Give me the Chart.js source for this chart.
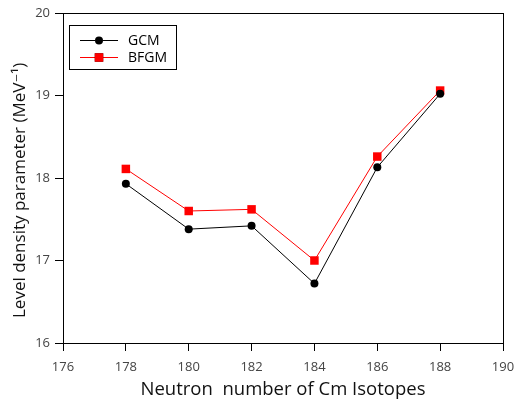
<!DOCTYPE html>
<html>
<head>
<meta charset="utf-8">
<script src="https://cdn.jsdelivr.net/npm/chart.js@4/dist/chart.umd.min.js"></script>
<style>
  html, body { margin: 0; padding: 0; background: #fff; }
  #wrap { width: 516px; height: 403px; }
</style>
</head>
<body>
<div id="wrap"><canvas id="c" width="516" height="403"></canvas></div>
<script>
// Neutron numbers of the Cm isotopes
const neutronNumbers = [178, 180, 182, 184, 186, 188];
// Level density parameter (MeV^-1) from the two models
const gcmValues  = [17.93, 17.38, 17.42, 16.72, 18.13, 19.02];
const bfgmValues = [18.11, 17.60, 17.62, 17.00, 18.26, 19.06];
// Axis tick values
const xTicks = [176, 178, 180, 182, 184, 186, 188, 190];
const yTicks = [16, 17, 18, 19, 20];
// Axis titles
const xTitle = 'Neutron  number of Cm Isotopes';
const yTitle = 'Level density parameter (MeV\u207B\u00B9)';

const FONT = "'Open Sans', 'DejaVu Sans', sans-serif";

const toPoints = (xs, ys) => xs.map((x, i) => ({ x: x, y: ys[i] }));

// Frame around the plot area
const framePlugin = {
  id: 'frame',
  afterDatasetsDraw(chart) {
    const { ctx, chartArea: a } = chart;
    ctx.save();
    ctx.strokeStyle = '#000';
    ctx.lineWidth = 1;
    ctx.strokeRect(Math.round(a.left) + 0.5, Math.round(a.top) + 0.5,
                   Math.round(a.right - a.left), Math.round(a.bottom - a.top));
    ctx.restore();
  }
};

// Rotated y-axis title, starting just above the bottom of the plot
const yTitlePlugin = {
  id: 'yTitle',
  afterDraw(chart) {
    const { ctx, chartArea: a } = chart;
    ctx.save();
    ctx.translate(20, a.bottom - 25);
    ctx.rotate(-Math.PI / 2);
    ctx.fillStyle = '#111';
    ctx.font = "17px " + FONT;
    ctx.textAlign = 'left';
    ctx.textBaseline = 'middle';
    ctx.fillText(yTitle, 0, 0);
    ctx.restore();
  }
};

// Boxed legend in the upper-left corner of the plot
const boxLegendPlugin = {
  id: 'boxLegend',
  afterDraw(chart) {
    const { ctx, chartArea: a } = chart;
    const x0 = a.left + 6, y0 = a.top + 12, w = 107, h = 44;
    ctx.save();
    ctx.fillStyle = '#fff';
    ctx.fillRect(x0, y0, w, h);
    ctx.strokeStyle = '#000';
    ctx.lineWidth = 1;
    ctx.strokeRect(x0 + 0.5, y0 + 0.5, w, h);
    chart.data.datasets.forEach((ds, i) => {
      const cy = y0 + 15 + i * 17;
      const lx1 = x0 + 11, lx2 = x0 + 49;
      ctx.strokeStyle = ds.borderColor;
      ctx.lineWidth = 1;
      ctx.beginPath();
      ctx.moveTo(lx1, cy + 0.5);
      ctx.lineTo(lx2, cy + 0.5);
      ctx.stroke();
      Chart.helpers.drawPoint(ctx, {
        pointStyle: ds.pointStyle,
        radius: ds.pointRadius,
        borderWidth: 0
      }, (lx1 + lx2) / 2, cy + 0.5);
      ctx.fillStyle = ds.pointBackgroundColor;
      ctx.fill();
      ctx.fillStyle = '#000';
      ctx.font = "14px " + FONT;
      ctx.textAlign = 'left';
      ctx.textBaseline = 'middle';
      ctx.fillText(ds.label, x0 + 59, cy + 1);
    });
    ctx.restore();
  }
};

new Chart(document.getElementById('c'), {
  type: 'line',
  data: {
    datasets: [
      {
        label: 'GCM',
        data: toPoints(neutronNumbers, gcmValues),
        borderColor: '#000000',
        backgroundColor: '#000000',
        pointBackgroundColor: '#000000',
        pointBorderWidth: 0,
        borderWidth: 1,
        pointStyle: 'circle',
        pointRadius: 4,
        tension: 0
      },
      {
        label: 'BFGM',
        data: toPoints(neutronNumbers, bfgmValues),
        borderColor: '#ff0000',
        backgroundColor: '#ff0000',
        pointBackgroundColor: '#ff0000',
        pointBorderWidth: 0,
        borderWidth: 1,
        pointStyle: 'rect',
        pointRadius: 6,
        tension: 0
      }
    ]
  },
  options: {
    responsive: false,
    animation: false,
    events: [],
    layout: { padding: { left: 0, right: 13, top: 13, bottom: 0 } },
    plugins: {
      legend: { display: false },
      tooltip: { enabled: false }
    },
    scales: {
      x: {
        type: 'linear',
        min: 176,
        max: 190,
        afterBuildTicks(scale) { scale.ticks = xTicks.map(v => ({ value: v })); },
        afterFit(scale) {
          scale.height = 60;
          scale.paddingLeft = 0;
          scale.paddingRight = 0;
        },
        border: { display: false },
        grid: { drawOnChartArea: false, drawTicks: true, tickLength: 8, color: '#000', tickWidth: 1 },
        ticks: { color: '#444', font: { family: FONT, size: 13 }, padding: 8, maxRotation: 0 },
        title: {
          display: true,
          text: xTitle,
          color: '#111',
          font: { family: FONT, size: 18.5 },
          padding: { top: 0, bottom: 2 }
        }
      },
      y: {
        type: 'linear',
        min: 16,
        max: 20,
        afterBuildTicks(scale) { scale.ticks = yTicks.map(v => ({ value: v })); },
        afterFit(scale) {
          scale.width = 63;
          scale.paddingTop = 0;
          scale.paddingBottom = 0;
        },
        border: { display: false },
        grid: { drawOnChartArea: false, drawTicks: true, tickLength: 8, color: '#000', tickWidth: 1 },
        ticks: { color: '#444', font: { family: FONT, size: 13 }, padding: 5 },
        title: { display: false }
      }
    }
  },
  plugins: [framePlugin, yTitlePlugin, boxLegendPlugin]
});
</script>
</body>
</html>
